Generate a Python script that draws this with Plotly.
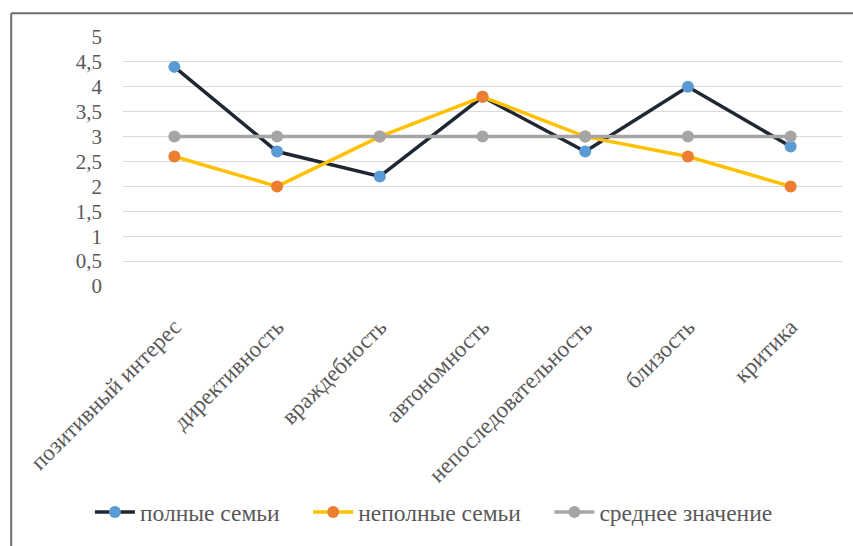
import plotly.graph_objects as go

categories = ["позитивный интерес", "директивность", "враждебность", "автономность",
              "непоследовательность", "близость", "критика"]
full_families = [4.4, 2.7, 2.2, 3.8, 2.7, 4.0, 2.8]
single_parent = [2.6, 2.0, 3.0, 3.8, 3.0, 2.6, 2.0]
mean_value = [3, 3, 3, 3, 3, 3, 3]
y_ticks = [0, 0.5, 1, 1.5, 2, 2.5, 3, 3.5, 4, 4.5, 5]
series_names = ["полные семьи", "неполные семьи", "среднее значение"]

FONT = "Times New Roman"
TEXT = "#595959"
GAP = "\u00a0" * 4  # extra room between legend entries

fig = go.Figure()
fig.add_trace(go.Scatter(x=categories, y=full_families, name=series_names[0] + GAP,
                         mode="lines+markers",
                         line=dict(color="#1F2733", width=3.5),
                         marker=dict(color="#5B9BD5", size=12)))
fig.add_trace(go.Scatter(x=categories, y=single_parent, name=series_names[1] + GAP,
                         mode="lines+markers",
                         line=dict(color="#FFC000", width=3.5),
                         marker=dict(color="#ED7D31", size=12)))
fig.add_trace(go.Scatter(x=categories, y=mean_value, name=series_names[2],
                         mode="lines+markers",
                         line=dict(color="#A5A5A5", width=3.5),
                         marker=dict(color="#A5A5A5", size=12)))

fig.update_layout(
    template="none",
    width=853, height=546,
    margin=dict(l=123, r=11, t=37, b=256),
    font=dict(family=FONT, size=21, color=TEXT),
    separators=", ",
    showlegend=True,
    legend=dict(orientation="h", x=-0.046, xanchor="left", y=-0.909, yanchor="middle",
                font=dict(family=FONT, size=23.5, color=TEXT),
                itemwidth=40, traceorder="normal"),
    shapes=[
        dict(type="line", xref="paper", yref="paper",
             x0=-0.1555, x1=1.02, y0=1.095, y1=1.095,
             line=dict(color="#6E6E6E", width=2)),
        dict(type="line", xref="paper", yref="paper",
             x0=-0.1555, x1=-0.1555, y0=1.095, y1=-1.05,
             line=dict(color="#6E6E6E", width=2)),
    ],
)
fig.update_xaxes(type="category", range=[-0.5, 6.5], tickangle=-45, showgrid=False,
                 showline=False, zeroline=False, ticks="", ticklabelstandoff=22,
                 tickfont=dict(family=FONT, size=23, color=TEXT))
fig.update_yaxes(range=[0, 5], tickvals=y_ticks, showgrid=True, gridcolor="#D9D9D9",
                 gridwidth=1, zeroline=False, showline=False, ticks="",
                 ticklabelstandoff=20, tickformat=",.1~f",
                 tickfont=dict(family=FONT, size=21, color=TEXT))

fig.write_html("out.html")
